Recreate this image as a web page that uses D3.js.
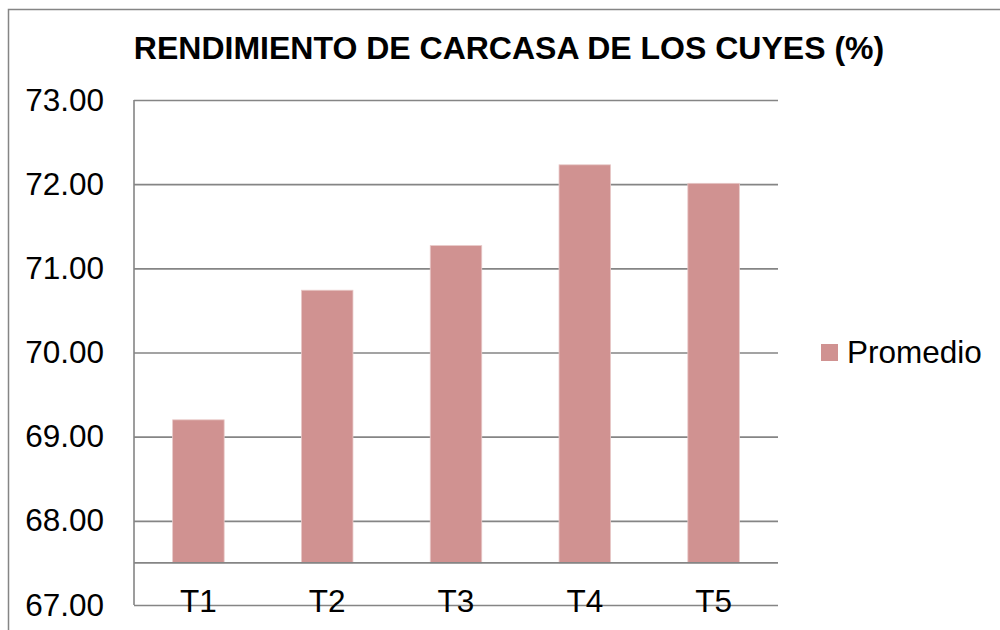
<!DOCTYPE html>
<html>
<head>
<meta charset="utf-8">
<script src="https://cdn.jsdelivr.net/npm/d3@7"></script>
<style>
  body { margin: 0; background: #fff; }
  text { font-family: "Liberation Sans", Arial, sans-serif; fill: #000; }
</style>
</head>
<body>
<div id="chart"></div>
<script>
// Data
const categories = ["T1", "T2", "T3", "T4", "T5"];
const promedio = [69.20, 70.74, 71.27, 72.23, 72.01];
const yTicks = [67, 68, 69, 70, 71, 72, 73];
const seriesName = "Promedio";
const title = "RENDIMIENTO DE CARCASA DE LOS CUYES (%)";

const width = 1000, height = 630;
const plot = { left: 134, right: 778, top: 100, bottom: 605 };
const barColor = "#d09291";
const gridColor = "#858585";

const svg = d3.select("#chart")
  .append("svg")
  .attr("width", width)
  .attr("height", height);

// Outer chart frame (runs off the right and bottom edges)
svg.append("rect")
  .attr("x", 8.5)
  .attr("y", 9.5)
  .attr("width", 1100)
  .attr("height", 700)
  .attr("fill", "none")
  .attr("stroke", gridColor)
  .attr("stroke-width", 1.5);

// Title
svg.append("text")
  .attr("x", 509)
  .attr("y", 59)
  .attr("text-anchor", "middle")
  .style("font-size", "32px")
  .style("font-weight", "bold")
  .text(title);

const x = d3.scaleBand()
  .domain(categories)
  .range([plot.left, plot.right])
  .paddingInner(0.6)
  .paddingOuter(0.3);

const y = d3.scaleLinear()
  .domain([67, 73])
  .range([plot.bottom, plot.top]);

// Gridlines + y labels
const yAxis = svg.append("g")
  .attr("transform", `translate(${plot.left},0)`)
  .call(d3.axisLeft(y)
    .tickValues(yTicks)
    .tickSize(-(plot.right - plot.left))
    .tickPadding(30)
    .tickFormat(d3.format(".2f")));
yAxis.select(".domain").remove();
yAxis.selectAll(".tick line")
  .attr("stroke", gridColor)
  .attr("stroke-width", 1.6);
yAxis.selectAll(".tick text")
  .style("font-size", "31.5px")
  .attr("fill", "#000");

// Left axis line
svg.append("line")
  .attr("x1", plot.left).attr("x2", plot.left)
  .attr("y1", y(73)).attr("y2", y(67))
  .attr("stroke", gridColor)
  .attr("stroke-width", 1.6);

// Horizontal axis crosses at 67.5
const base = 67.5;

svg.append("g")
  .selectAll("rect")
  .data(promedio)
  .enter()
  .append("rect")
  .attr("x", (d, i) => x(categories[i]))
  .attr("y", d => y(d))
  .attr("width", x.bandwidth())
  .attr("height", d => y(base) - y(d))
  .attr("fill", barColor)
  .attr("stroke", "#e8c9c8")
  .attr("stroke-width", 0.8);

svg.append("line")
  .attr("x1", plot.left).attr("x2", plot.right)
  .attr("y1", y(base)).attr("y2", y(base))
  .attr("stroke", gridColor)
  .attr("stroke-width", 1.6);

// Category labels
svg.append("g")
  .selectAll("text")
  .data(categories)
  .enter()
  .append("text")
  .attr("x", d => x(d) + x.bandwidth() / 2)
  .attr("y", 612)
  .attr("text-anchor", "middle")
  .style("font-size", "31.5px")
  .text(d => d);

// Legend
const legend = svg.append("g").attr("transform", "translate(821,344)");
legend.append("rect")
  .attr("width", 17)
  .attr("height", 17)
  .attr("fill", barColor);
legend.append("text")
  .attr("x", 26)
  .attr("y", 19)
  .style("font-size", "31.5px")
  .text(seriesName);
</script>
</body>
</html>
